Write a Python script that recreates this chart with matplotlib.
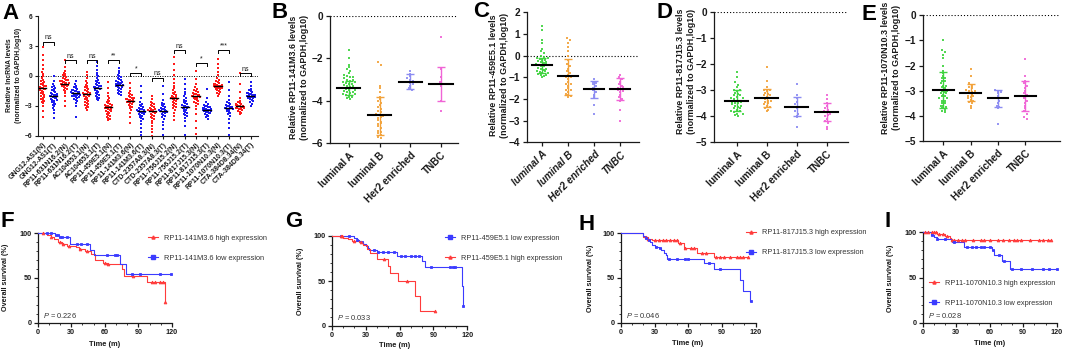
import numpy as np
import matplotlib
matplotlib.use('Agg')
import matplotlib.pyplot as plt
from matplotlib.lines import Line2D
from matplotlib.ticker import MultipleLocator

plt.rcParams['font.family'] = ['Liberation Sans', 'DejaVu Sans']
plt.rcParams['mathtext.fontset'] = 'custom'
plt.rcParams['mathtext.it'] = 'Liberation Sans:italic'
plt.rcParams['mathtext.rm'] = 'Liberation Sans'

# ---------------- Panel A data ----------------
a_labels = ['GNG12-AS1(N)', 'GNG12-AS1(T)', 'RP11-631N16.2(N)', 'RP11-631N16.2(T)',
            'AC104653.1(N)', 'AC104653.1(T)', 'RP11-459E5.1(N)', 'RP11-459E5.1(T)',
            'RP11-141M3.6(N)', 'RP11-141M3.6(T)', 'CTD-2357A8.3(N)', 'CTD-2357A8.3(T)',
            'RP11-756J15.2(N)', 'RP11-756J15.2(T)', 'RP11-817J15.3(N)', 'RP11-817J15.3(T)',
            'RP11-1070N10.3(N)', 'RP11-1070N10.3(T)', 'CTA-384D8.34(N)', 'CTA-384D8.34(T)']
a_medians = [-1.2, -2.05, -0.8, -1.75, -1.85, -1.2, -3.15, -0.9, -2.5, -3.55,
             -3.5, -3.5, -2.25, -3.1, -2.05, -3.4, -1.05, -3.2, -3.05, -2.0]
a_sig = ['ns', 'ns', 'ns', '**', '*', 'ns', 'ns', '*', '***', 'ns']
a_sig_height = [3.45, 1.6, 1.6, 1.6, 0.27, -0.17, 2.6, 1.34, 2.6, 0.3]

a_gng12_n = [2.9, 2.1, 1.6, 1.1, 0.7, 0.4, 0.2, 0.0, -0.2, -0.4, -0.5, -0.7, -0.8, -0.9, -1.0, -1.1, -1.2, -1.2,
             -1.3, -1.4, -1.5, -1.6, -1.7, -1.8, -1.9, -2.0, -2.2, -2.3, -2.4, -2.5, -2.6, -2.7, -3.0, -3.5, -4.1,
             -1.05, -1.35, -0.6, -2.1]
a_gng12_t = [0.0, -0.5, -0.8, -1.0, -1.1, -1.3, -1.4, -1.5, -1.6, -1.7, -1.8, -1.9, -1.95, -2.0, -2.05, -2.1, -2.15,
             -2.2, -2.3, -2.4, -2.5, -2.6, -2.7, -2.8, -2.9, -3.0, -3.2, -3.4, -3.7, -4.2, -1.85, -2.25, -2.45, -1.2, -2.0]
a_631_n = [1.6, 0.9, 0.5, 0.3, 0.2, 0.1, 0.0, -0.1, -0.2, -0.3, -0.4, -0.5, -0.55, -0.6, -0.65, -0.7, -0.75, -0.8,
           -0.85, -0.9, -0.95, -1.0, -1.05, -1.1, -1.2, -1.3, -1.4, -1.5, -1.7, -2.0, -2.5, -3.0, -0.45, -0.68, -0.88]
a_631_t = [-0.5, -0.8, -1.0, -1.1, -1.2, -1.3, -1.4, -1.45, -1.5, -1.55, -1.6, -1.65, -1.7, -1.75, -1.8, -1.85,
           -1.9, -1.95, -2.0, -2.05, -2.1, -2.2, -2.3, -2.4, -2.5, -2.7, -3.0, -4.1, -1.72, -1.78, -1.62, -1.88, -2.15]
a_ac104_n = [0.4, 0.1, -0.2, -0.5, -0.7, -0.9, -1.0, -1.1, -1.2, -1.3, -1.4, -1.5, -1.6, -1.7, -1.8, -1.85, -1.9,
             -2.0, -2.1, -2.2, -2.3, -2.4, -2.5, -2.6, -2.7, -2.8, -2.9, -3.0, -3.1, -3.2, -3.4, -1.75, -2.05]
a_ac104_t = [1.4, 1.0, 0.6, 0.3, 0.1, 0.0, -0.2, -0.4, -0.5, -0.6, -0.7, -0.8, -0.9, -1.0, -1.1, -1.15, -1.2, -1.25,
             -1.3, -1.4, -1.5, -1.6, -1.7, -1.8, -1.9, -2.0, -2.1, -2.2, -2.3, -2.4, -1.05, -1.35]
a_459_n = [-0.6, -1.2, -1.7, -2.0, -2.2, -2.4, -2.5, -2.6, -2.7, -2.8, -2.9, -3.0, -3.05, -3.1, -3.15, -3.2, -3.25,
           -3.3, -3.4, -3.5, -3.6, -3.7, -3.8, -3.9, -4.0, -4.1, -4.2, -4.3, -4.4, -3.35, -2.95, -3.55]
a_459_t = [0.8, 0.5, 0.3, 0.1, 0.0, -0.1, -0.2, -0.3, -0.4, -0.5, -0.6, -0.7, -0.75, -0.8, -0.85, -0.9, -0.95, -1.0,
           -1.05, -1.1, -1.2, -1.3, -1.4, -1.5, -1.6, -1.7, -1.8, -1.9, -0.65, -1.15, -0.88]
a_141_n = [-0.7, -1.2, -1.5, -1.7, -1.8, -1.9, -2.0, -2.1, -2.2, -2.3, -2.35, -2.4, -2.45, -2.5, -2.55, -2.6, -2.65,
           -2.7, -2.8, -2.9, -3.0, -3.1, -3.2, -3.4, -3.7, -4.1, -4.7, -2.42, -2.58, -2.25]
a_141_t = [-1.0, -1.6, -2.2, -2.6, -2.8, -2.9, -3.0, -3.1, -3.2, -3.3, -3.35, -3.4, -3.45, -3.5, -3.55, -3.6, -3.65,
           -3.7, -3.75, -3.8, -3.9, -4.0, -4.1, -4.2, -4.3, -4.5, -4.8, -5.2, -5.6, -5.9, -3.48, -3.62, -3.85]
a_ctd_n = [-2.0, -2.3, -2.6, -2.7, -2.8, -2.9, -3.0, -3.1, -3.2, -3.3, -3.4, -3.45, -3.5, -3.55, -3.6, -3.7, -3.8,
           -3.9, -4.0, -4.1, -4.2, -4.3, -4.5, -4.7, -5.0, -5.3, -5.6, -6.0, -3.35, -3.65]
a_ctd_t = [-1.0, -1.8, -2.4, -2.7, -2.8, -2.9, -3.0, -3.1, -3.2, -3.3, -3.35, -3.4, -3.45, -3.5, -3.55, -3.6, -3.65,
           -3.7, -3.8, -3.9, -4.0, -4.1, -4.3, -4.6, -4.9, -5.3, -5.9, -3.48, -3.58]
a_756_n = [1.9, 1.2, 0.6, 0.1, -0.3, -0.7, -1.0, -1.2, -1.4, -1.6, -1.7, -1.8, -1.9, -2.0, -2.1, -2.2, -2.25, -2.3,
           -2.4, -2.5, -2.6, -2.7, -2.8, -2.9, -3.0, -3.1, -3.2, -3.4, -3.7, -4.0, -4.4, -2.15, -2.35]
a_756_t = [-0.3, -0.8, -1.3, -1.6, -1.8, -2.0, -2.2, -2.4, -2.5, -2.6, -2.7, -2.8, -2.9, -3.0, -3.05, -3.1, -3.15,
           -3.2, -3.3, -3.4, -3.5, -3.6, -3.7, -3.8, -3.9, -4.0, -4.2, -4.5, -5.0, -5.9, -3.25]
a_817_n = [0.5, -0.3, -0.8, -1.1, -1.3, -1.4, -1.5, -1.6, -1.7, -1.8, -1.85, -1.9, -1.95, -2.0, -2.05, -2.1, -2.15,
           -2.2, -2.25, -2.3, -2.4, -2.5, -2.6, -2.7, -2.8, -3.0, -3.3, -3.8, -4.5, -5.2, -5.8, -1.98, -2.12]
a_817_t = [-1.3, -2.2, -2.6, -2.8, -2.9, -3.0, -3.05, -3.1, -3.15, -3.2, -3.25, -3.3, -3.35, -3.4, -3.45, -3.5,
           -3.55, -3.6, -3.65, -3.7, -3.75, -3.8, -3.9, -4.0, -4.1, -4.3, -3.38, -3.42, -3.48, -3.32]
a_1070_n = [1.7, 1.2, 0.8, 0.4, 0.1, -0.2, -0.4, -0.5, -0.6, -0.7, -0.8, -0.85, -0.9, -0.95, -1.0, -1.02, -1.05,
            -1.08, -1.1, -1.15, -1.2, -1.25, -1.3, -1.35, -1.4, -1.5, -1.6, -1.7, -1.8, -2.0, -0.98, -1.12, -1.18, -0.92]
a_1070_t = [-0.6, -1.4, -2.0, -2.4, -2.6, -2.7, -2.8, -2.9, -3.0, -3.05, -3.1, -3.15, -3.2, -3.25, -3.3, -3.35,
            -3.4, -3.5, -3.6, -3.7, -3.8, -4.0, -4.3, -4.7, -5.2, -5.9, -3.18, -3.22, -3.28]
a_cta_n = [0.3, -0.8, -1.6, -2.2, -2.5, -2.6, -2.7, -2.8, -2.85, -2.9, -2.95, -3.0, -3.02, -3.05, -3.08, -3.1,
           -3.15, -3.2, -3.25, -3.3, -3.35, -3.4, -3.5, -3.6, -3.7, -3.8, -2.98, -3.12, -3.18]
a_cta_t = [-0.6, -1.0, -1.3, -1.4, -1.5, -1.6, -1.7, -1.75, -1.8, -1.85, -1.9, -1.95, -2.0, -2.02, -2.05, -2.1,
           -2.15, -2.2, -2.25, -2.3, -2.4, -2.5, -2.6, -2.8, -3.0, -1.98, -2.08, -1.92]
a_groups = [a_gng12_n, a_gng12_t, a_631_n, a_631_t, a_ac104_n, a_ac104_t, a_459_n, a_459_t,
            a_141_n, a_141_t, a_ctd_n, a_ctd_t, a_756_n, a_756_t, a_817_n, a_817_t,
            a_1070_n, a_1070_t, a_cta_n, a_cta_t]

# ---------------- Panels B-E data ----------------
subtypes = ['luminal A', 'luminal B', 'Her2 enriched', 'TNBC']

b_lumA = [-1.6, -2.0, -2.3, -2.4, -2.5, -2.6, -2.7, -2.8, -2.85, -2.9, -2.95, -3.0, -3.05, -3.1, -3.15, -3.2, -3.25,
          -3.3, -3.35, -3.4, -3.45, -3.5, -3.55, -3.6, -3.65, -3.7, -3.75, -3.8, -3.85, -3.9, -3.0, -3.2, -3.4,
          -3.6, -3.8, -3.3, -3.5, -3.7, -2.9, -3.1]
b_lumB = [-2.2, -2.3, -3.3, -3.4, -3.6, -3.8, -3.9, -4.0, -4.1, -4.2, -4.3, -4.4, -4.5, -4.6, -4.65, -4.7, -4.8,
          -4.9, -5.0, -5.1, -5.2, -5.3, -5.4, -5.5, -5.6, -5.7, -5.75, -4.55, -4.75, -5.05, -5.45]
b_her2 = [-2.6, -2.75, -2.85, -2.95, -3.0, -3.05, -3.1, -3.15, -3.2, -3.3, -3.4, -3.5]
b_tnbc = [-1.0, -2.5, -2.9, -3.1, -3.2, -3.3, -4.0, -4.5]
b_medians = [-3.4, -4.65, -3.1, -3.2]
b_err_hi = [-3.05, -3.8, -2.75, -2.4]
b_err_lo = [-3.75, -5.6, -3.45, -4.0]

c_lumA = [1.35, 1.2, 0.7, 0.6, 0.3, 0.2, 0.1, 0.0, -0.05, -0.1, -0.15, -0.2, -0.25, -0.3, -0.35, -0.4, -0.45,
          -0.5, -0.55, -0.6, -0.65, -0.7, -0.75, -0.8, -0.85, -0.9, -0.95, -1.0, -0.3, -0.5, -0.7, -0.2, -0.4,
          -0.6, -0.8, -0.45, -0.9, -0.1]
c_lumB = [0.8, 0.7, 0.6, 0.4, 0.2, 0.0, -0.2, -0.4, -0.5, -0.6, -0.7, -0.8, -0.9, -1.0, -1.1, -1.2, -1.3, -1.4,
          -1.5, -1.6, -1.7, -1.75, -1.8, -1.85, -1.9, -1.0, -1.3, -1.6]
c_her2 = [-1.1, -1.2, -1.3, -1.4, -1.5, -1.55, -1.6, -1.7, -1.8, -1.9, -2.3, -2.7, -1.25]
c_tnbc = [-0.9, -1.0, -1.1, -1.2, -1.3, -1.4, -1.5, -1.55, -1.6, -1.7, -1.8, -1.9, -2.0, -2.1, -2.5, -3.0,
          -1.45, -1.65]
c_medians = [-0.45, -0.95, -1.55, -1.55]
c_err_hi = [-0.1, -0.15, -1.15, -1.05]
c_err_lo = [-0.8, -1.8, -1.95, -2.05]

d_lumA = [-2.3, -2.5, -2.7, -2.8, -2.9, -3.0, -3.05, -3.1, -3.15, -3.2, -3.25, -3.3, -3.35, -3.4, -3.45, -3.5,
          -3.55, -3.6, -3.65, -3.7, -3.75, -3.8, -3.85, -3.9, -3.95, -4.0, -3.2, -3.4, -3.6, -3.8, -3.0, -3.3,
          -3.5, -3.7, -3.9, -3.45]
d_lumB = [-2.1, -2.65, -2.9, -3.0, -3.05, -3.1, -3.15, -3.2, -3.25, -3.3, -3.35, -3.4, -3.45, -3.5, -3.55, -3.6,
          -3.65, -3.7, -3.75, -3.8, -3.2, -3.4, -3.0]
d_her2 = [-2.75, -3.2, -3.3, -3.45, -3.55, -3.65, -3.7, -3.8, -3.9, -4.0, -4.05, -4.4]
d_tnbc = [-3.2, -3.35, -3.5, -3.6, -3.7, -3.8, -3.85, -3.9, -4.0, -4.1, -4.2, -4.25, -4.4, -4.5, -3.75, -3.95]
d_medians = [-3.4, -3.3, -3.65, -3.85]
d_err_hi = [-3.0, -2.95, -3.25, -3.5]
d_err_lo = [-3.8, -3.65, -4.0, -4.2]

e_lumA = [-1.0, -1.4, -1.45, -1.6, -1.7, -2.0, -2.2, -2.3, -2.4, -2.5, -2.6, -2.7, -2.8, -2.85, -2.9, -2.95, -3.0,
          -3.05, -3.1, -3.15, -3.2, -3.3, -3.4, -3.5, -3.6, -3.7, -3.8, -3.85, -3.0, -3.2, -3.4, -3.6, -2.6, -2.8,
          -3.1, -3.3, -3.5, -3.75, -2.5, -3.65]
e_lumB = [-2.15, -2.4, -2.7, -2.8, -2.85, -2.9, -2.95, -3.0, -3.05, -3.1, -3.15, -3.2, -3.25, -3.3, -3.35, -3.4,
          -3.45, -3.5, -3.6, -3.7, -3.0, -3.2]
e_her2 = [-2.95, -3.0, -3.05, -3.1, -3.2, -3.3, -3.4, -3.5, -3.6, -3.65, -3.7, -4.3]
e_tnbc = [-1.75, -2.4, -2.6, -2.7, -2.8, -2.9, -3.0, -3.1, -3.2, -3.3, -3.4, -3.5, -3.6, -3.7, -3.8, -3.9, -4.05,
          -4.1, -3.15]
e_medians = [-2.95, -3.1, -3.3, -3.2]
e_err_hi = [-2.25, -2.75, -2.95, -2.6]
e_err_lo = [-3.7, -3.4, -3.65, -3.8]

# ---------------- Kaplan-Meier data ----------------
f_high_t = [0, 8, 12, 15, 18, 22, 26, 34, 37, 42, 48, 51, 58, 62, 75, 77, 98, 114]
f_high_s = [100, 98, 96, 93, 90, 88, 86, 84, 82, 80, 77, 70, 67, 65, 60, 52, 45, 23]
f_high_end = 114
f_high_cens = [5, 12, 20, 23, 28, 38, 44, 60, 63, 85, 102, 105, 109, 112, 114]
f_low_t = [0, 15.5, 19, 29, 47, 50.6, 73.5, 79]
f_low_s = [100, 98, 96, 88, 81, 75, 65, 54.6]
f_low_end = 119
f_low_cens = [8, 12, 16, 18, 20, 22, 26, 35, 39, 44, 62, 69, 71, 84, 91, 109, 119]

g_low_t = [0, 20, 22, 24, 26, 28, 30, 32, 33, 36, 40, 58, 80, 83, 115, 116]
g_low_s = [100, 98, 96, 95, 93, 91, 89, 87, 85, 84, 82, 78, 72, 66, 45, 22]
g_low_end = 116
g_low_cens = [8, 15, 22, 27, 37, 41, 45, 50, 55, 61, 65, 70, 74, 77, 88, 105, 107, 109, 116]
g_high_t = [0, 10, 14, 18, 24, 28, 31, 34, 40, 50, 52, 58.4, 73.7, 78]
g_high_s = [100, 98, 97, 95, 93, 90, 86, 81, 75, 66.7, 58.5, 50.4, 33.3, 17]
g_high_end = 91.5
g_high_cens = [8, 9, 20, 26, 46, 67, 91.5]

h_high_t = [0, 20, 24, 28, 51, 56, 68, 83]
h_high_s = [100, 96, 94, 92.5, 89, 83, 78, 73]
h_high_end = 113
h_high_cens = [22, 24, 30, 34, 37, 40, 44, 47, 50, 53, 57, 62, 65, 72, 76, 85, 88, 92, 97, 103, 106, 109, 113]
h_low_t = [0, 20, 21, 23, 26, 28, 30, 34, 36, 38, 40, 41, 74, 83, 106, 109, 115]
h_low_s = [100, 97, 95, 93, 90, 87, 85, 83, 81, 78, 76, 71, 66.5, 60, 48, 36, 24]
h_low_end = 116
h_low_cens = [22, 25, 31, 35, 43, 50, 57, 60, 78, 88, 116]

i_high_t = [0, 13, 20, 24, 25]
i_high_s = [100, 98, 96, 94, 92]
i_high_end = 115
i_high_cens = [2, 5, 8, 10, 12, 15, 18, 22, 26, 28, 32, 35, 38, 45, 52, 55, 60, 67, 72, 77, 82, 84, 88, 96,
               104, 108, 112, 115]
i_low_t = [0, 7, 10, 13, 26, 37, 62, 64, 71, 78]
i_low_s = [100, 97, 95, 93, 89, 84, 80, 74.5, 68.5, 59.5]
i_low_end = 120
i_low_cens = [8, 13, 20, 28, 40, 44, 48, 52, 55, 60, 63, 68, 73, 80, 88, 98, 108, 113, 120]

# ---------------- styling ----------------
RED = '#FF1A1A'
BLUE = '#1A1AF0'
SUB_COLORS = ['#3FD33F', '#F2A23A', '#8C8CF2', '#F064D6']
KM_RED = '#FF3B3B'
KM_BLUE = '#3B3BFF'
TXT = '#1a1a1a'

W, H = 1065, 352
fig = plt.figure(figsize=(W / 100, H / 100), dpi=100)


def add_ax(l, r, t, b):
    return fig.add_axes([l / W, 1 - b / H, (r - l) / W, (b - t) / H])


def style_axes(ax, lw=0.9):
    for s in ['top', 'right']:
        ax.spines[s].set_visible(False)
    for s in ['left', 'bottom']:
        ax.spines[s].set_linewidth(lw)
        ax.spines[s].set_color(TXT)
    ax.tick_params(direction='out', colors=TXT, width=lw, length=2.5)


def swarm(vals, bin_h, hw, dx):
    vals = np.asarray(vals, float)
    bins = np.round(vals / bin_h).astype(int)
    off = np.zeros(len(vals))
    for b in np.unique(bins):
        idx = np.where(bins == b)[0]
        k = len(idx)
        if k == 1:
            continue
        step = min(dx, 2 * hw / (k - 1))
        off[idx] = (np.arange(k) - (k - 1) / 2) * step
    return off


def fig_text(x, y, s, **kw):
    fig.text(x / W, 1 - y / H, s, **kw)


# ---------------- Panel A ----------------
axA = add_ax(38, 258.3, 16.3, 135.7)
style_axes(axA, 0.8)
for i, vals in enumerate(a_groups):
    col = RED if i % 2 == 0 else BLUE
    off = swarm(vals, 0.3, 0.38, 0.14)
    axA.scatter(i + off, vals, s=2.2, color=col, marker='s', linewidths=0, zorder=2)
    axA.plot([i - 0.33, i + 0.33], [a_medians[i], a_medians[i]], color='black', lw=1.0, zorder=3)
for k, (lab, hgt) in enumerate(zip(a_sig, a_sig_height)):
    x0, x1 = 2 * k, 2 * k + 1
    axA.plot([x0, x0, x1, x1], [hgt - 0.3, hgt, hgt, hgt - 0.3], color='black', lw=0.7, zorder=3)
    axA.text((x0 + x1) / 2, hgt + 0.05, lab, ha='center', va='bottom', fontsize=5, color=TXT)
axA.axhline(0, color='black', lw=0.7, ls=(0, (1, 1.5)), zorder=1)
axA.set_xlim(-0.43, 19.69)
axA.set_ylim(-6, 6)
axA.set_yticks([-6, -3, 0, 3, 6])
axA.set_xticks(range(len(a_labels)))
axA.set_xticklabels(a_labels, rotation=45, ha='right', rotation_mode='anchor', fontsize=5.0,
                    fontweight='bold', color=TXT)
for t in axA.get_yticklabels():
    t.set_fontsize(4.8)
    t.set_fontweight('bold')
axA.tick_params(axis='both', pad=1.5)
fig_text(14, 75, 'Relative lncRNA levels\n(normalized to GAPDH,log10)', rotation=90, ha='center',
         va='center', fontsize=4.9, fontweight='bold', color=TXT, linespacing=1.3)


# ---------------- Panels B-E ----------------
def dot_panel(box, groups, med, hi, lo, ylim, yticks, xlim, ylabel, lab_xy, italic=False, bin_h=0.15,
              hw=0.3, dx=0.1):
    ax = add_ax(*box)
    style_axes(ax, 0.9)
    for i, vals in enumerate(groups):
        off = swarm(vals, bin_h, hw, dx)
        ax.scatter(i + off, vals, s=3.0, color=SUB_COLORS[i], marker='s', linewidths=0, zorder=2, alpha=0.9)
        ax.errorbar([i], [med[i]], yerr=[[med[i] - lo[i]], [hi[i] - med[i]]], fmt='none',
                    ecolor=SUB_COLORS[i], elinewidth=1.0, capsize=3.2, capthick=1.0, zorder=3)
        ax.plot([i - 0.38, i + 0.38], [med[i], med[i]], color='black', lw=1.5, zorder=4)
    ax.axhline(0, color='black', lw=0.8, ls=(0, (1, 1.8)), zorder=1)
    ax.set_xlim(*xlim)
    ax.set_ylim(*ylim)
    ax.set_yticks(yticks)
    ax.set_xticks(range(4))
    ax.set_xticklabels(subtypes, rotation=45, ha='right', rotation_mode='anchor', fontsize=7.2,
                       fontweight='bold', color=TXT, fontstyle='italic' if italic else 'normal')
    for t in ax.get_yticklabels():
        t.set_fontsize(7.2)
        t.set_fontweight('bold')
    ax.tick_params(axis='both', pad=2, length=3)
    fig_text(lab_xy[0], lab_xy[1], ylabel, rotation=90, ha='center', va='center', fontsize=6.4,
             fontweight='bold', color=TXT, linespacing=1.35)
    return ax


dot_panel((330, 458, 15.7, 143.3), [b_lumA, b_lumB, b_her2, b_tnbc], b_medians, b_err_hi, b_err_lo,
          (-6, 0), [-6, -4, -2, 0], (-0.61, 3.55),
          'Relative RP11-141M3.6 levels\n(normalized to GAPDH,log10)', (299, 77))
dot_panel((527, 639, 12.3, 142.3), [c_lumA, c_lumB, c_her2, c_tnbc], c_medians, c_err_hi, c_err_lo,
          (-4, 2), [-4, -3, -2, -1, 0, 1, 2], (-0.59, 3.72),
          'Relative RP11-459E5.1 levels\n(normalized to GAPDH,log10)', (499, 75), italic=True)
dot_panel((714.3, 847.7, 11.7, 142.3), [d_lumA, d_lumB, d_her2, d_tnbc], d_medians, d_err_hi, d_err_lo,
          (-5, 0), [-5, -4, -3, -2, -1, 0], (-0.75, 3.7),
          'Relative RP11-817J15.3 levels\n(normalized to GAPDH,log10)', (686, 71), bin_h=0.12)
dot_panel((923.3, 1060, 15, 141.3), [e_lumA, e_lumB, e_her2, e_tnbc], e_medians, e_err_hi, e_err_lo,
          (-5, 0), [-5, -4, -3, -2, -1, 0], (-0.73, 4.27),
          'Relative RP11-1070N10.3 levels\n(normalized to GAPDH,log10)', (891, 67.5), bin_h=0.12)


# ---------------- KM panels ----------------
def surv_at(times, surv, t):
    idx = np.searchsorted(np.asarray(times, float), t, side='right') - 1
    return surv[max(idx, 0)]


def km_panel(box, curves, legend_items, leg_xy, ylab_xy, xlab_xy, ptxt, p_xy):
    ax = add_ax(*box)
    style_axes(ax, 0.9)
    for times, surv, end, cens, col, mk in curves:
        tt = list(times) + [end]
        ss = list(surv) + [surv[-1]]
        ax.step(tt, ss, where='post', color=col, lw=0.8, clip_on=False, zorder=3)
        cy = [surv_at(times, surv, c) for c in cens]
        ax.plot(cens, cy, ls='none', marker=mk, ms=2.0, color=col, mew=0.6, clip_on=False, zorder=4)
    ax.set_xlim(0, 120)
    ax.set_ylim(0, 100)
    ax.set_xticks([0, 30, 60, 90, 120])
    ax.set_yticks([0, 50, 100])
    ax.xaxis.set_minor_locator(MultipleLocator(10))
    ax.yaxis.set_minor_locator(MultipleLocator(10))
    ax.tick_params(which='minor', length=1.5, width=0.6, colors=TXT)
    ax.tick_params(which='major', length=2.8, pad=1.5, labelsize=5.2)
    for t in ax.get_xticklabels() + ax.get_yticklabels():
        t.set_fontweight('bold')
    handles = [Line2D([], [], color=c, lw=0.8, marker=m, ms=2.2) for _, c, m in legend_items]
    leg = fig.legend(handles, [l for l, _, _ in legend_items], loc='center left',
                     bbox_to_anchor=(leg_xy[0] / W, 1 - leg_xy[1] / H), frameon=False, fontsize=5.3,
                     handlelength=1.4, handletextpad=0.8, labelspacing=1.75, borderpad=0, borderaxespad=0)
    for t in leg.get_texts():
        t.set_color('#333333')
    fig_text(ylab_xy[0], ylab_xy[1], 'Overall survival (%)', rotation=90, ha='center', va='center',
             fontsize=5.2, fontweight='bold', color=TXT)
    fig_text(xlab_xy[0], xlab_xy[1], 'Time (m)', ha='center', va='center', fontsize=5.4,
             fontweight='bold', color=TXT)
    fig_text(p_xy[0], p_xy[1], r'$\it{P}$ = ' + ptxt, ha='left', va='center', fontsize=5.4, color='#333333')
    return ax


km_panel((37.7, 172, 233, 322.7),
         [(f_high_t, f_high_s, f_high_end, f_high_cens, KM_RED, '^'),
          (f_low_t, f_low_s, f_low_end, f_low_cens, KM_BLUE, 's')],
         [('RP11-141M3.6 high expression', KM_RED, '^'), ('RP11-141M3.6 low expression', KM_BLUE, 's')],
         (148, 248), (6, 277.5), (105, 344), '0.226', (42.7, 315))
km_panel((331.7, 467.3, 236, 326),
         [(g_low_t, g_low_s, g_low_end, g_low_cens, KM_BLUE, 's'),
          (g_high_t, g_high_s, g_high_end, g_high_cens, KM_RED, '^')],
         [('RP11-459E5.1 low expression', KM_BLUE, 's'), ('RP11-459E5.1 high expression', KM_RED, '^')],
         (445, 248), (300.7, 281), (395, 345.3), '0.033', (336.7, 317.7))
km_panel((621, 755.7, 233.3, 322.7),
         [(h_high_t, h_high_s, h_high_end, h_high_cens, KM_RED, '^'),
          (h_low_t, h_low_s, h_low_end, h_low_cens, KM_BLUE, 's')],
         [('RP11-817J15.3 high expression', KM_RED, '^'), ('RP11-817J15.3 low expression', KM_BLUE, 's')],
         (745.7, 242.7), (590, 278), (688, 343.3), '0.046', (625.7, 315))
km_panel((922.7, 1056.7, 232.3, 322.7),
         [(i_high_t, i_high_s, i_high_end, i_high_cens, KM_RED, '^'),
          (i_low_t, i_low_s, i_low_end, i_low_cens, KM_BLUE, 's')],
         [('RP11-1070N10.3 high expression', KM_RED, '^'), ('RP11-1070N10.3 low expression', KM_BLUE, 's')],
         (929, 293.3), (890, 278), (990, 343.3), '0.028', (927.7, 315))

# ---------------- panel letters ----------------
for letter, (x, y) in zip('ABCDEFGHI', [(2, 19.3), (271.7, 18.3), (473, 16.7), (656.7, 18), (861.7, 20),
                                         (0, 227), (285, 227), (579, 230), (884, 227)]):
    fig_text(x, y, letter, ha='left', va='baseline', fontsize=16, fontweight='bold', color='black')

fig.savefig('out.png', dpi=100)
